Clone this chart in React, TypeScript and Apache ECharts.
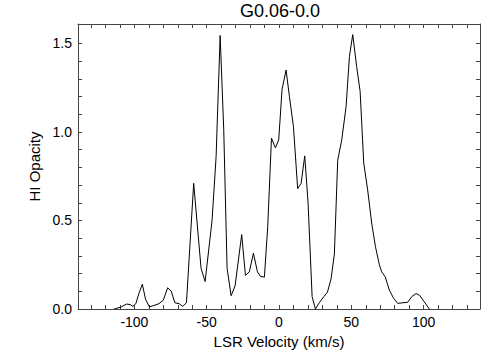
import React, { useEffect, useRef } from "react";
import * as echarts from "echarts";

const TITLE = "G0.06-0.0";
const X_NAME = "LSR Velocity (km/s)";
const Y_NAME = "HI Opacity";

const velocity = [
  -114, -109, -105.5, -103, -101, -99, -97, -94.5, -92.3, -89.6, -86.5, -83, -80, -77, -74.5, -72, -69,
  -66.6, -64, -59, -53.9, -51.1, -46.3, -43.5, -40.7, -38.2, -35.9, -33.1, -30.4, -25.8, -23.2, -20.5,
  -17.7, -14.9, -12.9, -10.1, -7.8, -5.2, -2.5, -0.2, 2.1, 4.9, 7.2, 10.0, 12.9, 15.3, 17.8, 20.1, 22.9,
  25.2, 27.9, 31.0, 33.5, 36.0, 38.3, 40.6, 43.4, 46.4, 48.7, 51.0, 53.7, 56.1, 58.6, 61.3, 64.1, 66.7,
  69.4, 71.0, 73.4, 76.3, 79.3, 82.1, 89.0, 91.8, 94.8, 97.1, 100.5, 104,
];
const opacity = [
  0.0, 0.012, 0.028, 0.025, 0.015, 0.03, 0.085, 0.14, 0.055, 0.012, 0.02, 0.03, 0.05, 0.12, 0.1, 0.035, 0.03,
  0.015, 0.035, 0.71, 0.23, 0.155, 0.5, 0.86, 1.545, 1.01, 0.23, 0.075, 0.13, 0.42, 0.19, 0.21,
  0.315, 0.21, 0.185, 0.18, 0.465, 0.965, 0.91, 0.955, 1.24, 1.35, 1.2, 1.03, 0.68, 0.71, 0.865, 0.6, 0.07,
  0.0, 0.036, 0.07, 0.095, 0.17, 0.31, 0.84, 0.956, 1.144, 1.427, 1.55, 1.37, 1.23, 0.824, 0.673, 0.485, 0.352,
  0.25, 0.21, 0.183, 0.107, 0.06, 0.032, 0.038, 0.07, 0.087, 0.078, 0.04, 0.0,
];

const xLabels = [-100, -50, 0, 50, 100];
const xTicks = [-130, -120, -110, -100, -90, -80, -70, -60, -50, -40, -30, -20, -10, 0, 10, 20, 30, 40, 50, 60, 70, 80, 90, 100, 110, 120, 130];
const yLabels = [0, 0.5, 1.0, 1.5];
const yTicks = [0, 0.1, 0.2, 0.3, 0.4, 0.5, 0.6, 0.7, 0.8, 0.9, 1.0, 1.1, 1.2, 1.3, 1.4, 1.5];

const FONT = "'Liberation Sans', Arial, Helvetica, sans-serif";
const AXIS_COLOR = "#444";

export default function App() {
  const ref = useRef<HTMLDivElement>(null);
  useEffect(() => {
    if (!ref.current) return;
    const chart = echarts.init(ref.current, null, { renderer: "svg" });
    const data = velocity.map((v, i) => [v, opacity[i]]);
    const axisLine = { show: true, onZero: false, lineStyle: { color: AXIS_COLOR, width: 1 } };
    chart.setOption({
      animation: false,
      backgroundColor: "#fff",
      textStyle: { fontFamily: FONT },
      grid: { left: 78, right: 24, top: 24, bottom: 51, containLabel: false },
      graphic: [
        {
          type: "text",
          x: 280,
          y: 11,
          style: {
            text: TITLE,
            fontSize: 18,
            fontFamily: FONT,
            fill: "#000",
            textAlign: "center",
            textVerticalAlign: "middle",
          },
        },
      ],
      xAxis: [
        {
          type: "value",
          min: -139,
          max: 139,
          position: "bottom",
          axisLine,
          splitLine: { show: false },
          axisTick: { show: true, inside: true, length: 4, customValues: xTicks, lineStyle: { color: AXIS_COLOR } },
          axisLabel: { customValues: xLabels, fontSize: 14, color: "#000", margin: 6, fontFamily: FONT },
          name: X_NAME,
          nameLocation: "middle",
          nameGap: 19,
          nameTextStyle: { fontSize: 15, color: "#000", fontFamily: FONT },
        },
        {
          type: "value",
          min: -139,
          max: 139,
          position: "top",
          axisLine,
          splitLine: { show: false },
          axisTick: { show: true, inside: true, length: 4, customValues: xTicks, lineStyle: { color: AXIS_COLOR } },
          axisLabel: { show: false },
        },
      ],
      yAxis: [
        {
          type: "value",
          min: 0,
          max: 1.61,
          position: "left",
          axisLine,
          splitLine: { show: false },
          axisTick: { show: true, inside: true, length: 4, customValues: yTicks, lineStyle: { color: AXIS_COLOR } },
          axisLabel: {
            customValues: yLabels,
            fontSize: 14,
            color: "#000",
            margin: 6,
            fontFamily: FONT,
            formatter: (v: number) => v.toFixed(1),
          },
          name: Y_NAME,
          nameLocation: "middle",
          nameGap: 32,
          nameTextStyle: { fontSize: 15, color: "#000", fontFamily: FONT },
        },
        {
          type: "value",
          min: 0,
          max: 1.61,
          position: "right",
          axisLine,
          splitLine: { show: false },
          axisTick: { show: true, inside: true, length: 4, customValues: yTicks, lineStyle: { color: AXIS_COLOR } },
          axisLabel: { show: false },
        },
      ],
      series: [
        {
          type: "line",
          data,
          xAxisIndex: 0,
          yAxisIndex: 0,
          showSymbol: false,
          symbol: "none",
          lineStyle: { color: "#000", width: 1 },
          clip: true,
        },
      ],
    });
    return () => chart.dispose();
  }, []);
  return (
    <div
      ref={ref}
      style={{ position: "fixed", left: 0, top: 0, width: 504, height: 360, background: "#fff" }}
    />
  );
}
